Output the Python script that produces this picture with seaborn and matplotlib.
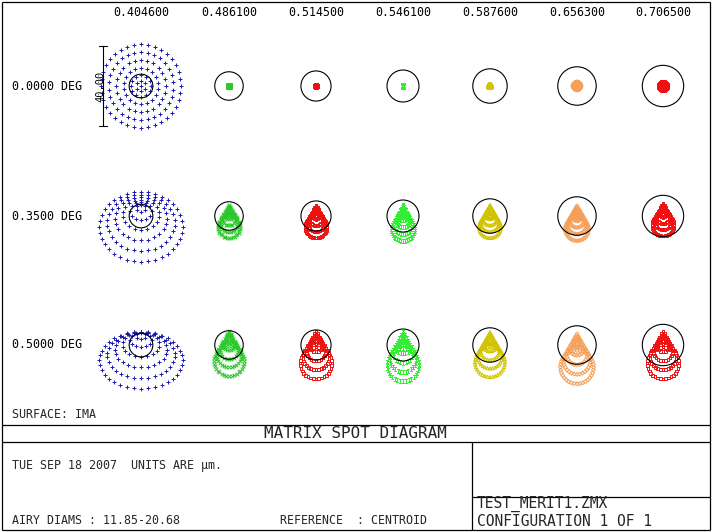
import numpy as np
import pandas as pd
import matplotlib
matplotlib.use("Agg")
import matplotlib.pyplot as plt
from matplotlib.patches import Circle
import seaborn as sns

sns.set_theme(style="white")
plt.rcParams['font.family'] = ['DejaVu Sans Mono', 'DejaVu Sans']

# ---------------- data ----------------
WAVELENGTHS = ["0.404600", "0.486100", "0.514500", "0.546100", "0.587600", "0.656300", "0.706500"]
FIELDS = ["0.0000 DEG", "0.3500 DEG", "0.5000 DEG"]
AIRY_DIAMS = [11.85, 14.24, 15.07, 16.00, 17.21, 19.22, 20.68]   # um
SCALE_BAR = 40.00                                              # um

# relative ring radii of the hexapolar ray pattern (6 rings)
RING_PROFILE = [0.12, 0.26, 0.43, 0.62, 0.81, 1.00]

# spot shape per field (rows) and wavelength (cols), in um
SPOT_HALF_WIDTH = [
    [20.0, 0.6, 0.6, 0.6, 1.0, 2.0, 2.2],
    [21.0, 5.5, 5.5, 6.0, 5.5, 5.8, 5.5],
    [21.0, 7.5, 8.0, 8.2, 7.5, 8.3, 8.0],
]
SPOT_SQUASH = [
    [1.05, 1, 1, 1, 1, 1, 1],
    [0.83, 1, 1, 1, 1, 1, 1],
    [0.68, 1, 1, 1, 1, 1, 1],
]
SPOT_SHIFT = [
    [0.0, 0, 0, 0, 0, 0, 0],
    [0.51, 2, 2, 2, 2, 2, 2],
    [0.66, 2, 2, 2, 2, 2, 2],
]
SPOT_OFFSET = [
    [0.0, 0.0, 0.0, 0.0, 0.0, 0.0, 0.0],
    [-5.3, -5.5, -5.5, -5.5, -5.5, -5.0, -6.5],
    [-6.2, -7.0, -7.0, -6.5, -6.5, -5.5, -7.0],
]

COLORS = ['#1a1ab4', '#2ac82a', '#ee1111', '#33ee33', '#d0c400', '#f5a05a', '#ee1111']
MARKERS = ['+', 'x', 's', r'$\mathtt{I}$', '^', 'D', 's']
MSIZE = [11, 7, 4, 9, 5, 4, 4]
HOLLOW = [False, False, True, False, True, True, True]

# ---------------- layout (pixels) ----------------
W, H = 712, 532
COL_X = [141, 229, 316, 403, 490, 577, 663]
ROW_Y = [86, 216, 345]
CELL_W, CELL_H = 86, 128
PX_PER_UM = 2.0

fig = plt.figure(figsize=(W / 100, H / 100), dpi=100)
fig.patch.set_facecolor('white')

base = fig.add_axes([0, 0, 1, 1])
base.set_xlim(0, W)
base.set_ylim(H, 0)
base.axis('off')

lw = 0.9
def hline(y, x0, x1):
    base.plot([x0, x1], [y, y], color='black', lw=lw, solid_capstyle='butt')
def vline(x, y0, y1):
    base.plot([x, x], [y0, y1], color='black', lw=lw, solid_capstyle='butt')

# frame
hline(1.5, 1.5, 709.5); hline(529.5, 1.5, 709.5)
vline(1.5, 1.5, 529.5); vline(709.5, 1.5, 529.5)
hline(425, 1.5, 709.5)
hline(442, 1.5, 709.5)
vline(472, 442, 529.5)
hline(497, 472, 709.5)

small = 8.4
for x, lab in zip(COL_X, WAVELENGTHS):
    base.text(x, 12, lab, ha='center', va='center', fontsize=small, color='black')
for y, lab in zip(ROW_Y, FIELDS):
    base.text(12, y, lab, ha='left', va='center', fontsize=small, color='black')
base.text(12, 415, "SURFACE: IMA", ha='left', va='center', fontsize=small)
base.text(355, 434, "MATRIX SPOT DIAGRAM", ha='center', va='center', fontsize=11.5)
base.text(12, 466, "TUE SEP 18 2007  UNITS ARE \u00b5m.", ha='left', va='center', fontsize=small)
base.text(12, 520, "AIRY DIAMS : 11.85-20.68", ha='left', va='center', fontsize=small)
base.text(280, 520, "REFERENCE  : CENTROID", ha='left', va='center', fontsize=small)
base.text(477, 504, "TEST_MERIT1.ZMX", ha='left', va='center', fontsize=10.5)
base.text(477, 521, "CONFIGURATION 1 OF 1", ha='left', va='center', fontsize=10.5)

# ---------------- spots ----------------
def spot_points(R, S, Hs, Y0):
    xs, ys = [0.0], [Y0]
    for k, f in enumerate(RING_PROFILE, start=1):
        n = 6 * k
        th = 2 * np.pi * np.arange(n) / n
        xs.extend(R * f * np.sin(th))
        ys.extend(Y0 + Hs * R * f + S * R * f * np.cos(th))
    return pd.DataFrame({'x': xs, 'y': ys})

half_w = CELL_W / 2 / PX_PER_UM
half_h = CELL_H / 2 / PX_PER_UM
for r in range(len(FIELDS)):
    for c in range(len(WAVELENGTHS)):
        cx, cy = COL_X[c], ROW_Y[r]
        ax = fig.add_axes([(cx - CELL_W / 2) / W, 1 - (cy + CELL_H / 2) / H,
                           CELL_W / W, CELL_H / H])
        ax.set_xlim(-half_w, half_w)
        ax.set_ylim(half_h, -half_h)
        ax.axis('off')
        ax.patch.set_alpha(0)
        df = spot_points(SPOT_HALF_WIDTH[r][c], SPOT_SQUASH[r][c],
                         SPOT_SHIFT[r][c], SPOT_OFFSET[r][c])
        sns.scatterplot(data=df, x='x', y='y', marker=MARKERS[c], color=COLORS[c],
                        s=MSIZE[c], linewidth=0.7, ax=ax, legend=False, zorder=2)
        coll = ax.collections[-1]
        coll.set_clip_on(False)
        if HOLLOW[c]:
            coll.set_facecolor('none')
        coll.set_edgecolor(COLORS[c])
        ax.add_patch(Circle((0, 0), AIRY_DIAMS[c] / 2, fill=False,
                            edgecolor='black', lw=0.8, zorder=3, clip_on=False))
        if r == 0 and c == 0:
            bx = -19.0
            ax.plot([bx, bx], [-SCALE_BAR / 2, SCALE_BAR / 2], color='black', lw=0.8, clip_on=False)
            ax.plot([bx - 2, bx + 2], [-SCALE_BAR / 2] * 2, color='black', lw=0.8, clip_on=False)
            ax.plot([bx - 2, bx + 2], [SCALE_BAR / 2] * 2, color='black', lw=0.8, clip_on=False)
            ax.text(bx - 1.5, 0, f"{SCALE_BAR:.2f}", rotation=90, ha='center', va='center',
                    fontsize=7.5, color='black')

fig.savefig("out.png", dpi=100, facecolor='white')
